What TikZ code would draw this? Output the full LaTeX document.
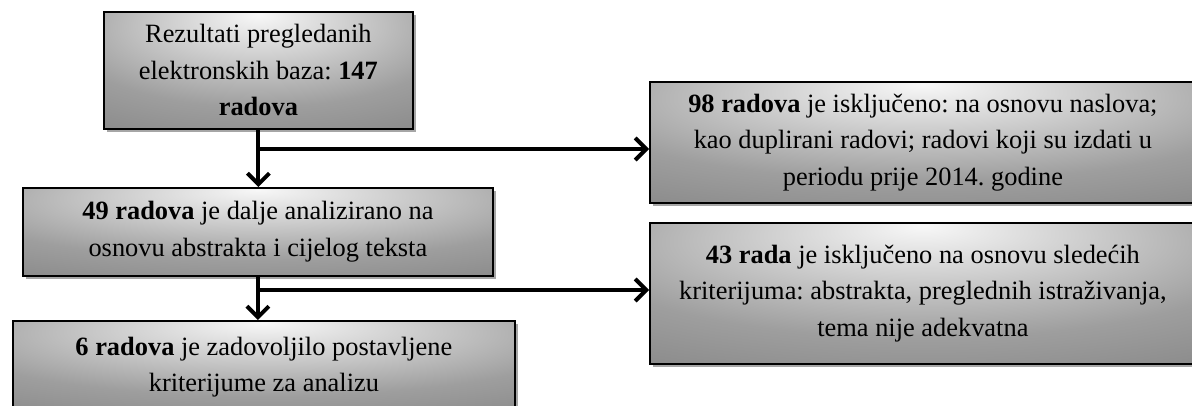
\documentclass[tikz,border=0pt]{standalone}
\usepackage{fontspec}
\setmainfont{Liberation Serif}
\usetikzlibrary{arrows.meta,shadows}
\frenchspacing
\pgfdeclareradialshading{boxglow}{\pgfpoint{0bp}{24bp}}{color(0bp)=(black!3); color(10bp)=(black!14); color(32bp)=(black!38); color(55bp)=(black!50); color(100bp)=(black!56)}

\begin{document}
\begin{tikzpicture}[x=1pt, y=-1pt,
  box/.style={draw, line width=1.8pt, anchor=north west, shading=boxglow, inner sep=0pt, align=center,
    font=\fontsize{26.4}{36.5}\selectfont,
    drop shadow={shadow xshift=3.5pt, shadow yshift=-3.5pt, fill=black!35, opacity=1}},
  conn/.style={line width=4pt, -{Straight Barb[length=11pt,width=22pt]}}]
\useasboundingbox (0,0) rectangle (1192,405);
\node[box, minimum width=309pt, minimum height=117pt] (R147) at (103,11) {Rezultati pregledanih\\elektronskih baza: \textbf{147}\\\textbf{radova}};
\node[box, minimum width=470pt, minimum height=88pt] (R49) at (22,187) {\textbf{49 radova} je dalje analizirano na\\osnovu abstrakta i cijelog teksta};
\node[box, minimum width=502pt, minimum height=92pt] (R6) at (12,320) {\textbf{6 radova} je zadovoljilo postavljene\\kriterijume za analizu};
\node[box, minimum width=546pt, minimum height=121pt] (R98) at (649,81) {\textbf{98 radova} je isključeno: na osnovu naslova;\\kao duplirani radovi; radovi koji su izdati u\\periodu prije 2014. godine};
\node[box, minimum width=546pt, minimum height=141pt] (R43) at (649,222) {\textbf{43 rada} je isključeno na osnovu sledećih\\kriterijuma: abstrakta, preglednih istraživanja,\\tema nije adekvatna};
\coordinate (J1) at (258,149);
\coordinate (J2) at (258,290);
\draw[conn] (R147.south) -- (R147.south |- R49.north);
\draw[conn] (J1) -- (J1 -| R98.west);
\draw[conn] (R49.south) -- (R49.south |- R6.north);
\draw[conn] (J2) -- (J2 -| R43.west);
\end{tikzpicture}
\end{document}
